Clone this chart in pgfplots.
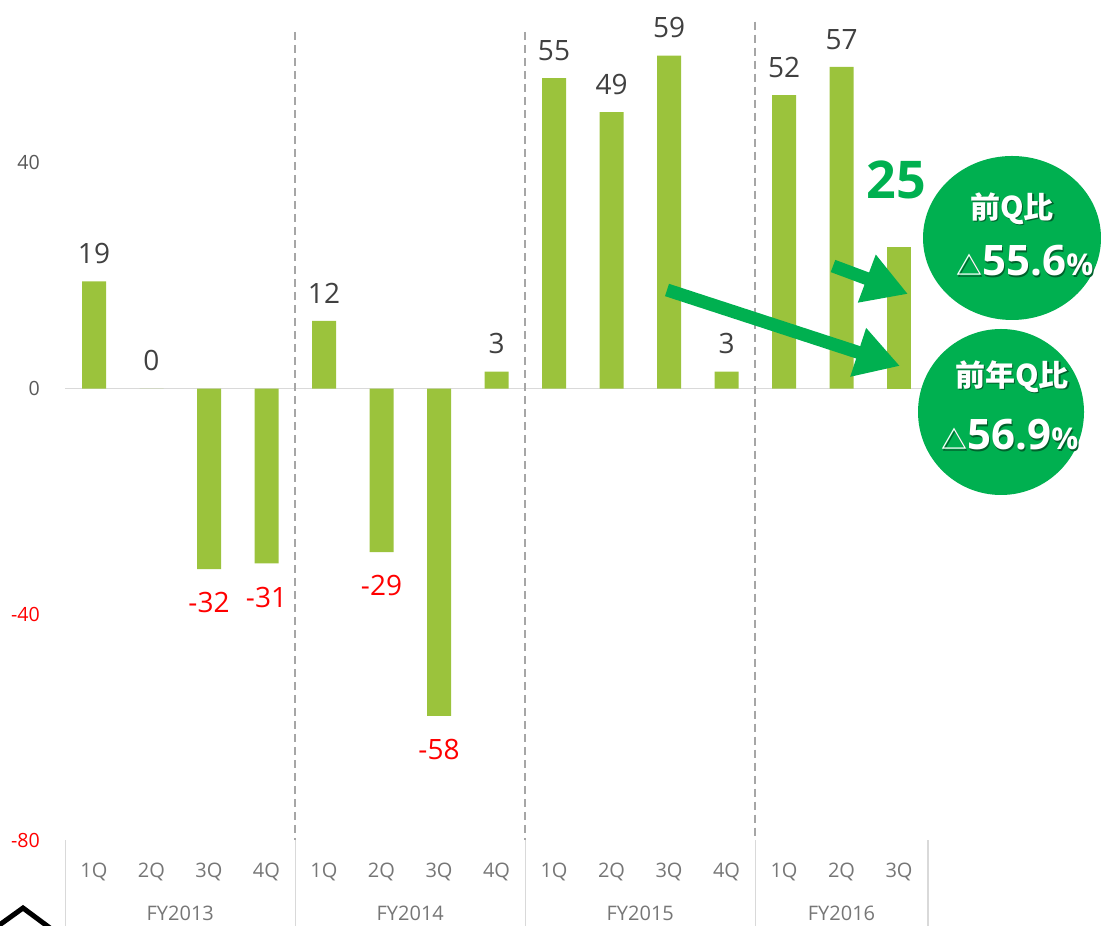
\documentclass[border=0pt]{standalone}
\usepackage{pgfplots}
\pgfplotsset{compat=1.18}
\usepackage{fontspec}
\setmainfont{Open Sans}
\newfontfamily\cjk{Noto Sans CJK JP}
\usetikzlibrary{arrows.meta}
\definecolor{bargreen}{RGB}{155,195,60}
\definecolor{circgreen}{RGB}{0,176,80}
\definecolor{labgray}{RGB}{64,64,64}
\definecolor{tickgray}{RGB}{89,89,89}
\definecolor{catgray}{RGB}{118,118,118}
\definecolor{sepgray}{RGB}{217,217,217}
\definecolor{dashgray}{RGB}{166,166,166}
\definecolor{negred}{RGB}{255,0,0}

\pgfplotstableread{
x y
0 19
1 0
4 12
7 3
8 55
9 49
10 59
11 3
12 52
13 57
}\pos
\pgfplotstableread{
x y
2 -32
3 -31
5 -29
6 -58
}\neg
\pgfplotstableread{
x y
14 25
}\last

\begin{document}
\begin{tikzpicture}
\path[use as bounding box] (0,0) rectangle (550.5pt,462.5pt);
\begin{axis}[
  at={(32.625pt,42.5pt)}, anchor=south west,
  scale only axis, width=431.25pt, height=420pt,
  xmin=-0.5, xmax=14.5, ymin=-80, ymax=68.85,
  axis line style={draw=none}, major tick style={draw=none},
  clip=false,
  ybar, bar width=12pt, bar shift=0pt,
  /pgf/number format/assume math mode=true,
  ytick={-80,-40,0,40},
  yticklabels={\textcolor{negred}{-80},\textcolor{negred}{-40},\textcolor{tickgray}{0},\textcolor{tickgray}{40}},
  yticklabel style={anchor=east, inner sep=0pt, xshift=-12.5pt, font=\fontsize{9.8}{10}\selectfont},
  xtick={0,...,14},
  xticklabels={1Q,2Q,3Q,4Q,1Q,2Q,3Q,4Q,1Q,2Q,3Q,4Q,1Q,2Q,3Q},
  xticklabel style={anchor=north, inner sep=0pt, yshift=-6.8pt, text=catgray, font=\fontsize{10}{10}\selectfont},
]
\draw[sepgray, line width=0.75pt] (axis cs:-0.5,0) -- (axis cs:14.5,0);
\draw[dashgray, line width=0.8pt, dash pattern=on 4pt off 2.5pt] (axis cs:3.5,63.2) -- (axis cs:3.5,-80);
\draw[dashgray, line width=0.8pt, dash pattern=on 4pt off 2.5pt] (axis cs:7.5,63.2) -- (axis cs:7.5,-80);
\draw[dashgray, line width=0.8pt, dash pattern=on 4pt off 2.5pt] (axis cs:11.5,65) -- (axis cs:11.5,-80);
\draw[sepgray, line width=0.75pt] (axis cs:-0.5,-80) -- ++(0pt,-43pt);
\draw[sepgray, line width=0.75pt] (axis cs:3.5,-80) -- ++(0pt,-43pt);
\draw[sepgray, line width=0.75pt] (axis cs:7.5,-80) -- ++(0pt,-43pt);
\draw[sepgray, line width=0.75pt] (axis cs:11.5,-80) -- ++(0pt,-43pt);
\draw[sepgray, line width=0.75pt] (axis cs:14.5,-80) -- ++(0pt,-43pt);
\addplot[fill=bargreen, draw=none,
  nodes near coords,
  nodes near coords style={anchor=south, inner sep=0pt, yshift=8.5pt, text=labgray, font=\fontsize{14}{14}\selectfont}]
  table[x=x,y=y] {\pos};
\addplot[fill=bargreen, draw=none,
  nodes near coords,
  nodes near coords style={anchor=north, inner sep=0pt, yshift=-11.5pt, text=negred, font=\fontsize{14}{14}\selectfont}]
  table[x=x,y=y] {\neg};
\addplot[fill=bargreen, draw=none,
  nodes near coords,
  nodes near coords style={anchor=south, inner sep=0pt, yshift=24pt, xshift=-1.5pt, text=circgreen, font=\bfseries\fontsize{26}{26}\selectfont}]
  table[x=x,y=y] {\last};
\node[text=catgray, font=\fontsize{10}{10}\selectfont, yshift=-36.5pt] at (axis cs:1.5,-80) {FY2013};
\node[text=catgray, font=\fontsize{10}{10}\selectfont, yshift=-36.5pt] at (axis cs:5.5,-80) {FY2014};
\node[text=catgray, font=\fontsize{10}{10}\selectfont, yshift=-36.5pt] at (axis cs:9.5,-80) {FY2015};
\node[text=catgray, font=\fontsize{10}{10}\selectfont, yshift=-36.5pt] at (axis cs:13,-80) {FY2016};
\end{axis}
\begin{scope}[x=0.5pt, y=-0.5pt, yshift=462.5pt]
  % arrows
  \draw[circgreen, line width=6.5pt, -{Triangle[length=22pt,width=24pt]}] (667,290) -- (900,366);
  \draw[circgreen, line width=6.5pt, -{Triangle[length=22pt,width=24pt]}] (833,266) -- (908,294);
  % circles
  \fill[circgreen] (1012,238) ellipse [x radius=89, y radius=82];
  \fill[circgreen] (1001,412) ellipse [x radius=83, y radius=83];
  \foreach \dx/\dy/\col in {1.2/1.2/black!45!circgreen,0/0/white} {
    \node[text=\col, font=\cjk\bfseries\fontsize{15}{15}\selectfont] at (1012+\dx,209+\dy) {前Q比};
    \node[text=\col, font=\bfseries\fontsize{21}{21}\selectfont] at (1025+\dx,261+\dy) {{\cjk\fontsize{13}{13}\selectfont △}55.6{\fontsize{15}{15}\selectfont\%}};
    \node[text=\col, font=\cjk\bfseries\fontsize{15}{15}\selectfont] at (1012+\dx,377+\dy) {前年Q比};
    \node[text=\col, font=\bfseries\fontsize{21}{21}\selectfont] at (1010+\dx,435+\dy) {{\cjk\fontsize{13}{13}\selectfont △}56.9{\fontsize{15}{15}\selectfont\%}};
  }
  % partial logo chevron
  \draw[black, line width=2.5pt] (-2,926) -- (23,908) -- (50,928);
\end{scope}
\end{tikzpicture}
\end{document}
